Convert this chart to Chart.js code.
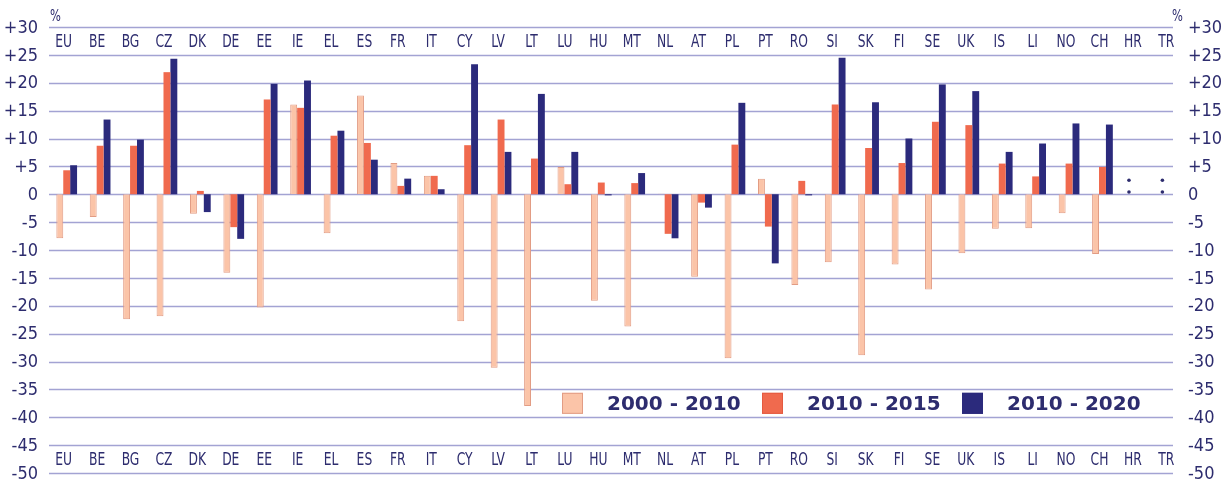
<!DOCTYPE html>
<html><head><meta charset="utf-8">
<script src="https://cdn.jsdelivr.net/npm/chart.js@4/dist/chart.umd.min.js"></script>
<style>html,body{margin:0;padding:0;background:#fff;overflow:hidden}</style>
</head><body>
<canvas id="c" width="1226" height="481"></canvas>
<script>
const categories = ['EU','BE','BG','CZ','DK','DE','EE','IE','EL','ES','FR','IT','CY','LV','LT','LU','HU','MT','NL','AT','PL','PT','RO','SI','SK','FI','SE','UK','IS','LI','NO','CH','HR','TR'];
const change2000_2010 = [-7.9,-4.1,-22.4,-21.9,-3.5,-14.1,-20.3,16.1,-7.0,17.7,5.6,3.3,-22.8,-31.1,-38.0,4.9,-19.1,-23.7,0.1,-14.8,-29.4,2.8,-16.3,-12.2,-28.9,-12.6,-17.1,-10.6,-6.2,-6.1,-3.4,-10.7,null,null];
const change2010_2015 = [4.3,8.7,8.7,21.9,0.6,-5.9,17.0,15.5,10.5,9.2,1.5,3.3,8.8,13.4,6.4,1.8,2.1,2.0,-7.1,-1.5,8.9,-5.8,2.4,16.1,8.3,5.6,13.0,12.4,5.5,3.2,5.5,4.9,null,null];
const change2010_2020 = [5.2,13.4,9.8,24.3,-3.2,-8.0,19.8,20.4,11.4,6.2,2.8,0.9,23.3,7.6,18.0,7.6,-0.2,3.8,-7.9,-2.4,16.4,-12.4,-0.2,24.5,16.5,10.0,19.7,18.5,7.6,9.1,12.7,12.5,null,null];
const seriesLabels = ['2000 - 2010','2010 - 2015','2010 - 2020'];
const notAvailable = ['HR','TR'];
const yTicks = [30,25,20,15,10,5,0,-5,-10,-15,-20,-25,-30,-35,-40,-45,-50];
const yTickLabels = ['+30','+25','+20','+15','+10','+5','0','-5','-10','-15','-20','-25','-30','-35','-40','-45','-50'];
const unitLabel = '%';

const NAVY = '#2d2c6e';
const GRID = '#a3a3d3';
const COLORS = ['#fbc4a8','#f06a4e','#2b2a7c'];
const BORDERS = ['#e29c84','#e45a40','#2b2a7c'];
const NARROW = '"Liberation Sans Narrow", "DejaVu Sans Condensed", sans-serif';

const gridPlugin = {
  id: 'customGrid',
  beforeDatasetsDraw(chart){
    const {ctx, chartArea, scales} = chart;
    ctx.save();
    ctx.strokeStyle = GRID; ctx.lineWidth = 1.3;
    yTicks.forEach(v => {
      const y = Math.round(scales.y.getPixelForValue(v)) + 0.5;
      ctx.beginPath(); ctx.moveTo(chartArea.left - 1, y); ctx.lineTo(chartArea.right - 13, y); ctx.stroke();
    });
    ctx.restore();
  }
};

const labelsPlugin = {
  id: 'catLabels',
  afterDraw(chart){
    const {ctx, chartArea, scales} = chart;
    const x = scales.x, y = scales.y;
    ctx.save();
    ctx.fillStyle = NAVY;
    ctx.textBaseline = 'middle';

    // y tick labels (both sides)
    ctx.font = '18px ' + NARROW;
    yTicks.forEach((v, k) => {
      const yy = y.getPixelForValue(v) + 1;
      ctx.textAlign = 'right';
      ctx.fillText(yTickLabels[k], chartArea.left - 12, yy);
      ctx.textAlign = 'left';
      ctx.fillText(yTickLabels[k], chartArea.right + 2, yy);
    });

    // category labels, top and bottom bands
    ctx.font = '18px ' + NARROW;
    ctx.textAlign = 'center';
    [27.5, -47.5].forEach(val => {
      const yy = y.getPixelForValue(val) + 1;
      categories.forEach((c, i) => {
        const xx = x.getPixelForValue(i) - 3;
        ctx.save(); ctx.translate(xx, yy); ctx.scale(0.76, 1); ctx.fillText(c, 0, 0); ctx.restore();
      });
    });

    // unit labels
    ctx.font = '15px ' + NARROW;
    ctx.textAlign = 'left';
    ctx.save(); ctx.translate(chartArea.left, 17); ctx.scale(0.85,1); ctx.fillText(unitLabel, 0, 0); ctx.restore();
    ctx.save(); ctx.translate(chartArea.right - 14, 17); ctx.scale(0.85,1); ctx.fillText(unitLabel, 0, 0); ctx.restore();

    // not available markers
    const meta0 = chart.getDatasetMeta(0);
    const bw = meta0.data[0] ? meta0.data[0].width : 7;
    notAvailable.forEach(c => {
      const i = categories.indexOf(c);
      const xx = x.getPixelForValue(i) - bw;
      [2.5, 0.4].forEach(v => {
        ctx.beginPath(); ctx.arc(xx, y.getPixelForValue(v), 1.8, 0, Math.PI*2); ctx.fill();
      });
    });

    // legend
    const ly = y.getPixelForValue(-37.5);
    const startX = 562, step = 200, sq = 21;
    ctx.font = 'bold 20px "DejaVu Sans", sans-serif';
    seriesLabels.forEach((lab, k) => {
      const lx = startX + k*step;
      ctx.fillStyle = COLORS[k]; ctx.fillRect(lx, ly - sq/2, sq, sq);
      ctx.strokeStyle = BORDERS[k]; ctx.lineWidth = 1; ctx.strokeRect(lx + 0.5, ly - sq/2 + 0.5, sq - 1, sq - 1);
      ctx.fillStyle = NAVY; ctx.textAlign = 'left';
      ctx.fillText(lab, lx + sq + 24, ly + 1);
    });
    ctx.restore();
  }
};

new Chart(document.getElementById('c'), {
  type: 'bar',
  data: {
    labels: categories,
    datasets: [
      {label: seriesLabels[0], data: change2000_2010, backgroundColor: COLORS[0], borderColor: BORDERS[0], borderWidth: 1},
      {label: seriesLabels[1], data: change2010_2015, backgroundColor: COLORS[1], borderColor: BORDERS[1], borderWidth: 0},
      {label: seriesLabels[2], data: change2010_2020, backgroundColor: COLORS[2], borderColor: BORDERS[2], borderWidth: 0}
    ]
  },
  options: {
    responsive: false,
    animation: false,
    devicePixelRatio: 1,
    layout: {padding: {top: 27, bottom: 8, left: 50, right: 40}},
    datasets: {bar: {barPercentage: 1.0, categoryPercentage: 0.62}},
    plugins: {legend: {display: false}, tooltip: {enabled: false}},
    scales: {
      x: {display: false, offset: true, grid: {display: false}},
      y: {display: false, min: -50, max: 30, grid: {display: false}}
    }
  },
  plugins: [gridPlugin, labelsPlugin]
});
</script>
</body></html>
